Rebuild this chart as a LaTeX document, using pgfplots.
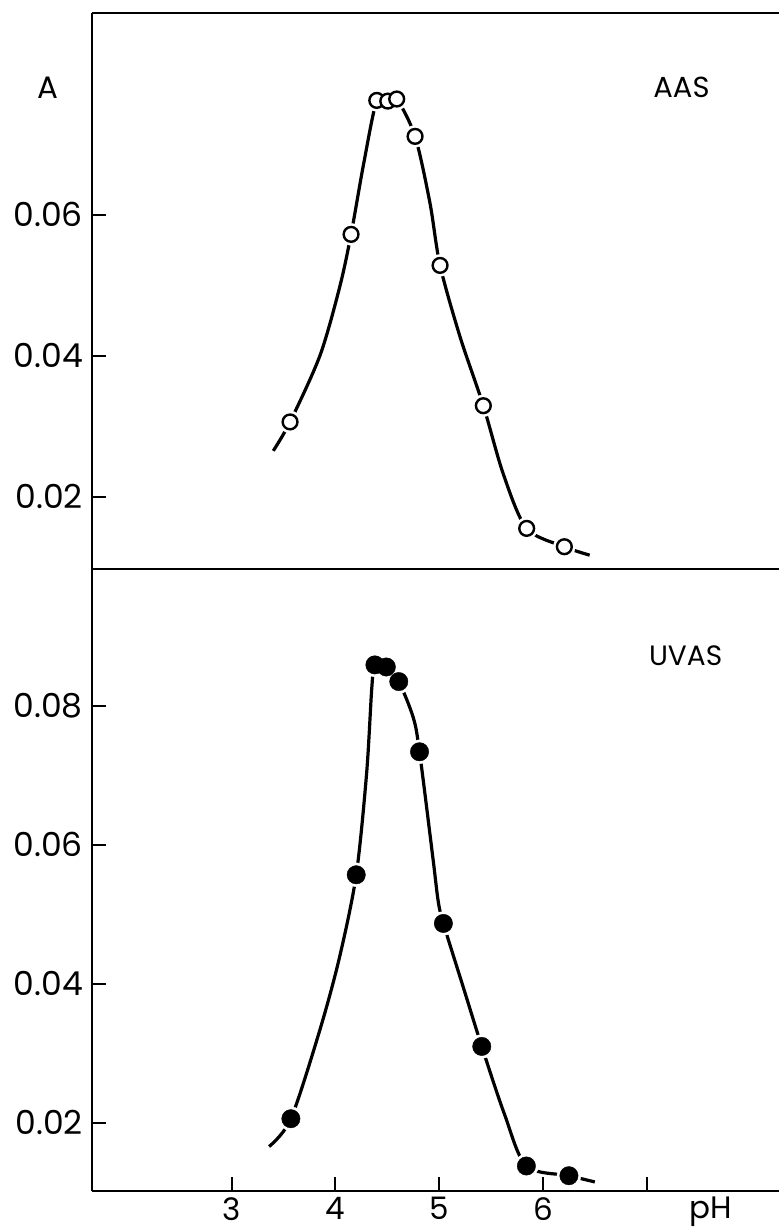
\documentclass[border=0pt]{standalone}
\usepackage{pgfplots}
\pgfplotsset{compat=1.18}
\usepackage{fontspec}
\setmainfont{Poppins}

\pgfplotstableread{
x y
3.562 0.0306
4.150 0.0572
4.398 0.0762
4.504 0.0761
4.590 0.0764
4.767 0.0711
5.008 0.0528
5.425 0.0329
5.843 0.0155
6.206 0.0129
}\aasdata

\pgfplotstableread{
x y
3.40 0.0265
3.562 0.0306
3.85 0.0400
4.04 0.0497
4.150 0.0572
4.27 0.0671
4.398 0.0762
4.504 0.0761
4.590 0.0764
4.767 0.0711
4.91 0.0617
5.008 0.0528
5.20 0.0427
5.425 0.0329
5.62 0.0231
5.843 0.0155
6.206 0.0129
6.45 0.0117
}\aascurve

\pgfplotstableread{
x y
3.57 0.0206
4.20 0.0557
4.38 0.0859
4.49 0.0856
4.61 0.0835
4.81 0.0734
5.04 0.0487
5.41 0.0310
5.84 0.0138
6.25 0.0124
}\uvasdata

\pgfplotstableread{
x y
3.36 0.0166
3.57 0.0206
3.85 0.0334
4.04 0.0439
4.20 0.0557
4.30 0.0703
4.35 0.0826
4.38 0.0859
4.49 0.0856
4.61 0.0835
4.75 0.0783
4.81 0.0734
4.94 0.0580
4.99 0.0519
5.04 0.0487
5.23 0.0396
5.41 0.0310
5.63 0.0212
5.84 0.0138
6.25 0.0124
6.50 0.0115
}\uvascurve

\begin{document}
\begin{tikzpicture}
\useasboundingbox (0,0) rectangle (779pt,1229pt);
\pgfplotsset{
  panel/.style={
    scale only axis, width=687pt,
    xmin=1.653, xmax=8.275,
    axis x line*=box, axis y line*=left,
    axis line style={line width=2pt, black},
    tick align=inside,
    major tick length=14pt,
    every tick/.style={black, line width=2pt},
    ytick pos=left,
    scaled y ticks=false, scaled x ticks=false,
    clip=false,
    /pgf/number format/assume math mode=true,
    yticklabel style={font=\fontsize{33}{38}\selectfont, inner sep=9pt},
    xticklabel style={font=\fontsize{31}{36}\selectfont, inner sep=6pt},
  },
}
% top panel AAS
\begin{axis}[panel,
  at={(92pt,660pt)}, anchor=south west, height=556pt,
  ymin=0.00974, ymax=0.0886,
  xtick=\empty,
  ytick={0.02,0.04,0.06}, yticklabels={0.02,0.04,0.06},
]
\addplot[black, line width=3.2pt, smooth, tension=0.5] table[x=x,y=y] {\aascurve};
\addplot[only marks, mark=*, mark size=11pt, mark options={draw=white, fill=white}] table[x=x,y=y] {\aasdata};
\addplot[only marks, mark=*, mark size=7.4pt, mark options={draw=black, fill=white, line width=2.4pt}] table[x=x,y=y] {\aasdata};
\node[font=\fontsize{29}{34}\selectfont] at (axis cs:7.335,0.0781) {AAS};
\node[font=\fontsize{31}{34}\selectfont] at (axis cs:1.23,0.078) {A};
\end{axis}
% bottom panel UVAS
\begin{axis}[panel,
  at={(92pt,38pt)}, anchor=south west, height=622pt,
  ymin=0.0102, ymax=0.0997,
  xtick={3,4,5,6,7}, xticklabels={3,4,5,6,{}},
  xtick pos=bottom,
  ytick={0.02,0.04,0.06,0.08}, yticklabels={0.02,0.04,0.06,0.08},
]
\addplot[black, line width=3.2pt, smooth, tension=0.5] table[x=x,y=y] {\uvascurve};
\addplot[only marks, mark=*, mark size=12pt, mark options={draw=white, fill=white}] table[x=x,y=y] {\uvasdata};
\addplot[only marks, mark=*, mark size=9.2pt, mark options={draw=black, fill=black}] table[x=x,y=y] {\uvasdata};
\node[font=\fontsize{28}{32}\selectfont] at (axis cs:7.375,0.0872) {UVAS};
\node[anchor=north, font=\fontsize{31}{36}\selectfont, inner sep=6pt] at (axis cs:7.62,0.0102) {pH};
\end{axis}
\end{tikzpicture}
\end{document}
